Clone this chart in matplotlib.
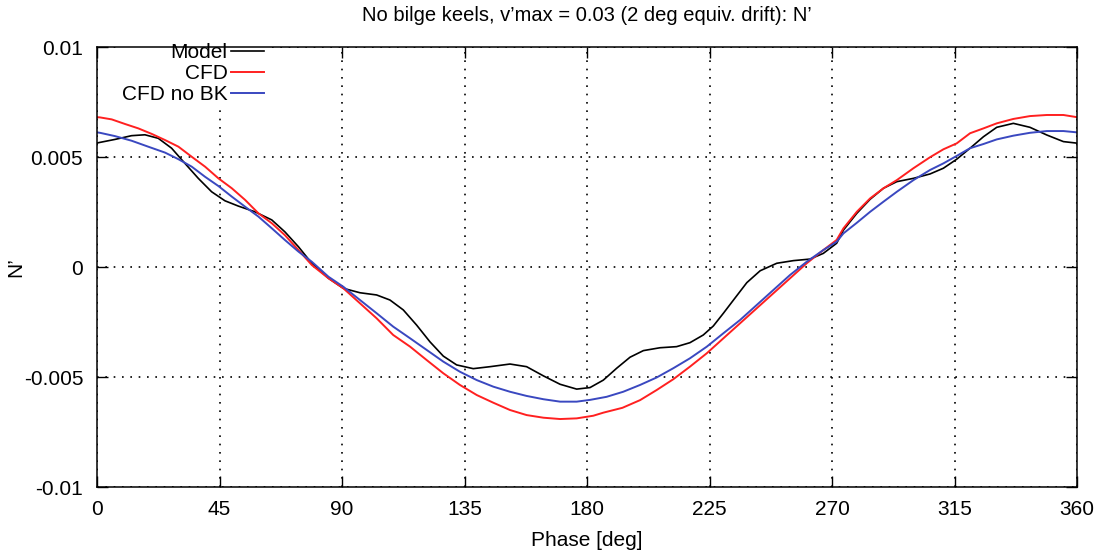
import matplotlib
matplotlib.use("Agg")
import matplotlib.pyplot as plt

plt.rcParams['font.family'] = ['Liberation Sans', 'DejaVu Sans']

# Phase angle [deg] and yaw moment N' for each series
model_phase = [0, 0.5, 6.6, 12.7, 17.6, 22.5, 27.4, 32.3, 37.2, 42.1, 47, 51.9, 58, 64.2,
               69, 74, 78.9, 85, 90.5, 96.6, 102.7, 107.6, 112.5, 117.4, 122.3, 127.2,
               132.1, 138.2, 144.4, 151.7, 157.8, 164, 170.1, 176.2, 181.1, 186, 190.9,
               195.8, 200.7, 206.8, 212.9, 217.8, 222.7, 226.4, 230.1, 233.8, 238.7,
               243.6, 249.7, 255.8, 261.9, 266.8, 271.7, 274.2, 279.1, 284, 288.9, 293.8,
               299.9, 306, 310.9, 315.8, 320.7, 325.6, 330.5, 336.6, 342.7, 348.9, 355,
               360]
model_n = [0.00563, 0.00565, 0.0058, 0.00597, 0.00601, 0.00585, 0.0054, 0.00471, 0.00403,
           0.00342, 0.00301, 0.00277, 0.00251, 0.00214,
           0.0016, 0.00092, 0.00017, -0.00051, -0.00097, -0.00117, -0.00127, -0.0015,
           -0.00195, -0.00264, -0.0034, -0.00405,
           -0.00445, -0.00462, -0.00453, -0.00441, -0.00453, -0.00495, -0.00533, -0.00555,
           -0.00548, -0.00514, -0.0046,
           -0.0041, -0.0038, -0.00367, -0.00362, -0.00344, -0.00309, -0.00268, -0.0021,
           -0.0015, -0.00071,
           -0.00017, 0.00017, 0.00029, 0.00036, 0.00062, 0.00108, 0.00168, 0.00244,
           0.00308, 0.00358, 0.00388,
           0.00403, 0.00423, 0.00449, 0.0049, 0.0054, 0.00592, 0.00635, 0.00653, 0.00635,
           0.006, 0.0057, 0.00563]

cfd_phase = [0, 1.1, 5.4, 10.3, 15.2, 20.1, 25, 29.9, 34.8, 39.7, 44.6, 49.5, 54.4, 59.3,
             64.2, 69, 74, 78.9, 85, 90.5, 96.6, 102.7, 108.8, 115, 121.1, 127.2, 133.3,
             139.5, 145.6, 151.7, 157.8, 164, 170.1, 176.2, 182.3, 186, 193, 199.5,
             205.6, 211.7, 217.8, 224, 230.1, 236.2, 242.3, 248.4, 254.6, 260.7, 266.8,
             271.7, 274.2, 279.1, 284, 288.9, 293.8, 299.9, 306, 310.9, 315.8, 320.7,
             325.6, 330.5, 336.6, 342.7, 348.9, 355, 360]
cfd_n = [0.00681, 0.0068, 0.00671, 0.0065, 0.0063, 0.00605, 0.00577, 0.00547, 0.00501,
         0.00456, 0.00403, 0.00358, 0.00305, 0.00244,
         0.00199, 0.00145, 0.00077, 0.00009, -0.00051, -0.00097, -0.00165, -0.00233,
         -0.00309, -0.00362, -0.00423, -0.00483, -0.00536,
         -0.00582, -0.00617, -0.0065, -0.00673, -0.00685, -0.00691, -0.00688, -0.00676,
         -0.00662, -0.0064, -0.00605,
         -0.00559, -0.0051, -0.00453, -0.00392, -0.00324, -0.00256, -0.00188, -0.0012,
         -0.00051, 0.00017, 0.00077,
         0.00123, 0.00176, 0.00251, 0.00312, 0.00358, 0.00395, 0.00449, 0.00499,
         0.00535, 0.00562, 0.00608,
         0.0063, 0.00653, 0.00673, 0.00686, 0.00691, 0.00691, 0.00681]

nobk_phase = [0, 1.1, 6.6, 12.7, 18.8, 25, 29.9, 34.8, 39.7, 44.6, 49.5, 54.4, 59.3, 64.2,
              69, 74, 78.9, 85, 90.5, 96.6, 102.7, 108.8, 115, 121.1, 127.2, 133.3, 139.5,
              145.6, 151.7, 157.8, 164, 170.1, 176.2, 181.1, 187.2, 193.3, 199.5, 205.6,
              211.7, 217.8, 224, 230.1, 236.2, 242.3, 248.4, 254.6, 260.7, 266.8, 271.7,
              274.2, 279.1, 284, 288.9, 293.8, 299.9, 306, 310.9, 315.8, 320.7, 325.6,
              330.5, 336.6, 342.7, 348.9, 355, 360]
nobk_n = [0.00612, 0.0061, 0.00595, 0.00574, 0.00547, 0.0052, 0.0049, 0.00456, 0.0041,
          0.00368, 0.0032, 0.00274, 0.00229, 0.00176,
          0.00123, 0.0007, 0.00024, -0.00044, -0.0009, -0.0015, -0.0021, -0.00271,
          -0.00324, -0.00377, -0.0043, -0.00476, -0.00514,
          -0.00544, -0.00567, -0.00586, -0.00601, -0.00612, -0.00612, -0.00604, -0.0059,
          -0.00567, -0.00536, -0.00502,
          -0.0046, -0.00415, -0.00362, -0.00301, -0.00241, -0.00173, -0.00105, -0.00036,
          0.00024, 0.00077, 0.00115,
          0.00153, 0.00201, 0.00251, 0.00297, 0.00342, 0.00395, 0.00441, 0.00471,
          0.00505, 0.0054, 0.00559,
          0.0058, 0.00597, 0.0061, 0.00618, 0.00618, 0.00612]

x_ticks = [0, 45, 90, 135, 180, 225, 270, 315, 360]
y_ticks = [-0.01, -0.005, 0, 0.005, 0.01]
y_tick_labels = ["-0.01", "-0.005", "0", "0.005", "0.01"]

fig = plt.figure(figsize=(10.95, 5.55), dpi=100)
ax = fig.add_axes([0.0886, 0.1225, 0.8950, 0.7928])

ax.plot(model_phase, model_n, color="black", lw=1.2, label="Model", zorder=2.1)
ax.plot(cfd_phase, cfd_n, color="#ff2020", lw=1.4, label="CFD", zorder=2.1)
ax.plot(nobk_phase, nobk_n, color="#3a48c0", lw=1.4, label="CFD no BK", zorder=2.1)

ax.set_xlim(0, 360)
ax.set_ylim(-0.01, 0.01)
ax.set_xticks(x_ticks)
ax.set_yticks(y_ticks)
ax.set_yticklabels(y_tick_labels)
ax.tick_params(direction="in", length=8, width=1, top=True, right=True,
               labelsize=15, colors="black")
ax.tick_params(axis="y", pad=10)
ax.tick_params(axis="x", pad=9)
ax.grid(True, color="black", linestyle=(0, (1, 4)), linewidth=1.2)
for s in ax.spines.values():
    s.set_linewidth(1.1)

ax.set_xlabel("Phase [deg]", fontsize=15, labelpad=9)
ax.set_ylabel("N\u2019", fontsize=15)
ax.yaxis.set_label_coords(-0.0735, 0.5)
ax.set_title("No bilge keels, v\u2019max = 0.03 (2 deg equiv. drift): N\u2019",
             fontsize=14.5, pad=19)

leg = ax.legend(loc="upper right", bbox_to_anchor=(266 / 1095, 1 - 41 / 555),
                bbox_transform=fig.transFigure, frameon=True, fancybox=False,
                facecolor="white", edgecolor="none", framealpha=1.0,
                markerfirst=False, fontsize=15, handlelength=1.6,
                handletextpad=0.15, labelspacing=0.1, borderaxespad=0.0,
                borderpad=0.1)
leg.set_zorder(2.4)
leg._legend_box.align = "right"

fig.savefig("out.png", dpi=100)
